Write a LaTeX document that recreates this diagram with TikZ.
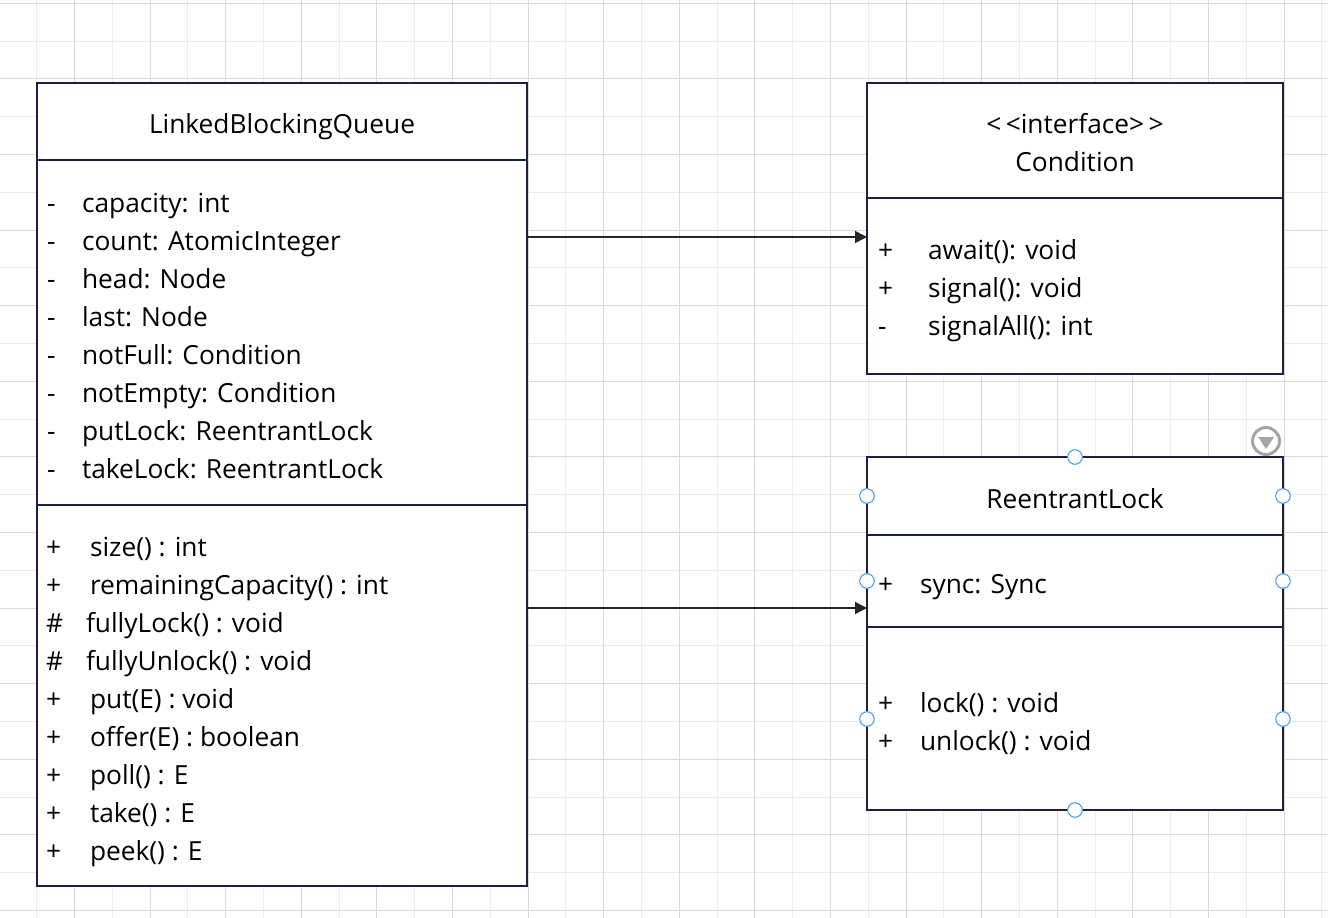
\documentclass[tikz,border=0pt]{standalone}
\usepackage{fontspec}
\setmainfont{Open Sans}
\usetikzlibrary{arrows.meta}
\definecolor{navy}{RGB}{27,31,64}
\definecolor{gridD}{RGB}{218,218,218}
\definecolor{gridL}{RGB}{236,236,236}
\definecolor{handlec}{RGB}{74,158,255}
\definecolor{arrowc}{RGB}{38,38,38}
\definecolor{iconc}{RGB}{165,165,165}
\begin{document}
\begin{tikzpicture}[x=1pt,y=-1pt,
  box/.style={draw=navy,line width=1.8pt,fill=white,rectangle,anchor=north west,inner sep=0,outer sep=0},
  divider/.style={draw=navy,line width=2.2pt},
  txt/.style={anchor=base west,inner sep=0,outer sep=0,font=\fontsize{26.3}{30}\selectfont,text=black},
  ttl/.style={anchor=base,inner sep=0,outer sep=0,font=\fontsize{26.3}{30}\selectfont,text=black},
  arr/.style={draw=arrowc,line width=1.6pt,-{Triangle[length=12pt,width=12pt]}},
  handle/.style={circle,draw=handlec,fill=white,line width=1.1pt,minimum size=14.5pt,inner sep=0},
  gl/.style={draw=gridL,line width=0.9pt},
  gd/.style={draw=gridD,line width=0.9pt}]
\useasboundingbox[fill=white] (0,0) rectangle (1328,918);
% grid
\foreach \k in {0,2,...,34} \draw[gl] ({36.7+37.8*\k},0) -- ++(0,918);
\foreach \j in {1,3,...,23} \draw[gl] (0,{3.3+37.8*\j}) -- ++(1328,0);
\foreach \k in {1,3,...,35} \draw[gd] ({36.7+37.8*\k},0) -- ++(0,918);
\foreach \j in {0,2,...,24} \draw[gd] (0,{3.3+37.8*\j}) -- ++(1328,0);

% LinkedBlockingQueue
\node[box,minimum width=490pt,minimum height=803pt] (lbq) at (37,83) {};
\draw[divider] (lbq.west |- 0,160) -- (lbq.east |- 0,160);
\draw[divider] (lbq.west |- 0,505) -- (lbq.east |- 0,505);
\node[ttl] (lbqt) at (282,133) {LinkedBlockingQueue};
\foreach \t [count=\i from 0] in {capacity: int,count: AtomicInteger,head: Node,last: Node,notFull: Condition,notEmpty: Condition,putLock: ReentrantLock,takeLock: ReentrantLock}{
  \node[txt] (las\i) at (47,{212+38*\i}) {-};
  \node[txt] (lat\i) at (82,{212+38*\i}) {\t};
}
\foreach \s/\t/\x [count=\i from 0] in {+/size() : int/90,+/remainingCapacity() : int/90,\#/fullyLock() : void/86,\#/fullyUnlock() : void/86,+/put(E) : void/90,+/offer(E) : boolean/90,+/poll() : E/90,+/take() : E/90,+/peek() : E/90}{
  \node[txt] (lms\i) at (46,{556+38*\i}) {\s};
  \node[txt] (lmt\i) at (\x,{556+38*\i}) {\t};
}

% Condition
\node[box,minimum width=416pt,minimum height=291pt] (cond) at (867,83) {};
\draw[divider] (cond.west |- 0,198) -- (cond.east |- 0,198);
\node[ttl] (condt1) at (1075,133) {<\,<interface>\,>};
\node[ttl] (condt2) at (1075,171) {Condition};
\foreach \s/\t [count=\i from 0] in {+/await(): void,+/signal(): void,-/signalAll(): int}{
  \node[txt] (cms\i) at (878,{259+38*\i}) {\s};
  \node[txt] (cmt\i) at (928,{259+38*\i}) {\t};
}

% ReentrantLock
\node[box,minimum width=416pt,minimum height=353pt] (rl) at (867,457) {};
\draw[divider] (rl.west |- 0,535) -- (rl.east |- 0,535);
\draw[divider] (rl.west |- 0,627) -- (rl.east |- 0,627);
\node[ttl] (rlt) at (1075,508) {ReentrantLock};
\node[txt] (ras0) at (878,593) {+};
\node[txt] (rat0) at (920,593) {sync: Sync};
\node[txt] (rms0) at (878,712) {+};
\node[txt] (rmt0) at (920,712) {lock() : void};
\node[txt] (rms1) at (878,750) {+};
\node[txt] (rmt1) at (920,750) {unlock() : void};

% connectors
\draw[arr] (lbq.east |- 0,237) -- (cond.west |- 0,237);
\draw[arr] (lbq.east |- 0,608) -- (rl.west |- 0,608);

% selection handles
\node[handle] (h1) at (rl.north) {};
\node[handle] (h2) at (rl.south) {};
\node[handle] (h3) at (867,496) {};
\node[handle] (h4) at (1283,496) {};
\node[handle] (h5) at (867,581) {};
\node[handle] (h6) at (1283,581) {};
\node[handle] (h7) at (867,719) {};
\node[handle] (h8) at (1283,719) {};
% dropdown icon
\node[circle,draw=iconc,line width=3pt,minimum size=27pt,inner sep=0] (icon) at (1266,441) {};
\fill[iconc] (1258,437) -- (1274,437) -- (1266,449) -- cycle;
\end{tikzpicture}
\end{document}
